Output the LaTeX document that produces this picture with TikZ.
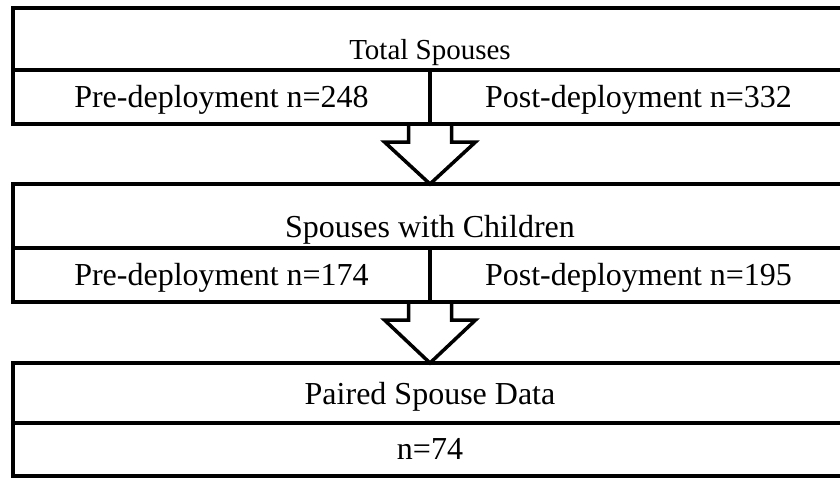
\documentclass[tikz,border=0pt]{standalone}
\usepackage{fontspec}
\setmainfont{Liberation Serif}
\usetikzlibrary{calc,positioning}
\tikzstyle{cell} = [rectangle, draw=black, line width=3.5pt, outer sep=0pt, inner sep=0pt, font=\fontsize{32}{38}\selectfont]
\tikzstyle{headcell} = [cell, minimum width=834pt, text height=51pt, text depth=11pt]
\tikzstyle{halfcell} = [cell, minimum width=417pt, text height=37pt, text depth=17pt]
\tikzstyle{hollow} = [draw=black, line width=3.5pt, line join=miter]

\begin{document}
\begin{tikzpicture}[x=1pt,y=1pt]
    \useasboundingbox (0,0) rectangle (840,-479);

        \node[headcell,font=\fontsize{29}{35}\selectfont] (Total) at (430,-39) {Total Spouses};
        \node[halfcell,anchor=north east] (PreTotal) at (Total.south) {Pre-deployment n=248};
        \node[halfcell,anchor=north west] (PostTotal) at (Total.south) {Post-deployment n=332};

        \node[headcell,text height=53pt] (Children) [below=60pt of PreTotal.south east] {Spouses with Children};
        \node[halfcell,anchor=north east] (PreChildren) at (Children.south) {Pre-deployment n=174};
        \node[halfcell,anchor=north west] (PostChildren) at (Children.south) {Post-deployment n=195};

        \node[headcell,text height=41pt,text depth=19pt] (Paired) [below=61pt of PreChildren.south east] {Paired Spouse Data};
        \node[headcell,text height=36pt,text depth=17pt] (PairedN) [below=0pt of Paired] {n=74};

        % hollow block arrows between the stages
        \foreach \from/\to in {PreTotal/Children,PreChildren/Paired}
            \draw[hollow] ($(\from.south east)+(-21.5,0)$) -- ++(0,-18) -- ++(-24,0) -- (\to.north)
                -- ($(\from.south east)+(45.5,-18)$) -- ++(-24,0) -- ++(0,18);
\end{tikzpicture}
\end{document}
